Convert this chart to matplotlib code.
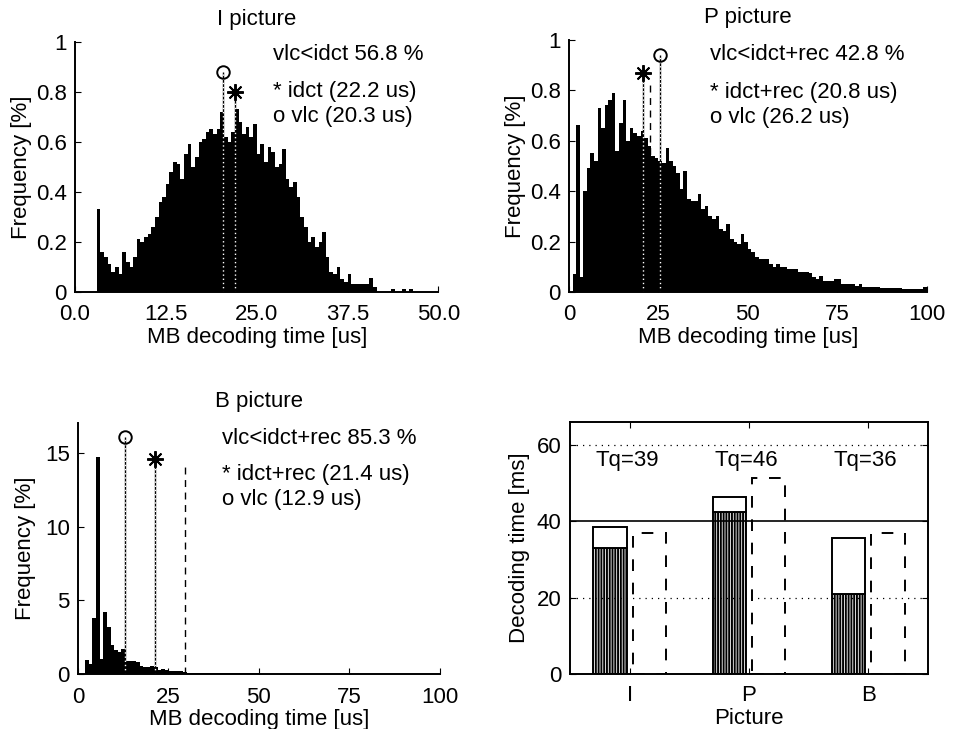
import numpy as np
import matplotlib
matplotlib.use('Agg')
import matplotlib.pyplot as plt

plt.rcParams['font.family'] = ['Liberation Sans', 'DejaVu Sans']
plt.rcParams['font.size'] = 16
plt.rcParams['hatch.linewidth'] = 1.4

# I picture histogram, 0.5 us bins starting at 3.0 us
i_start, i_step = 3.0, 0.5
i_freq = [0.33, 0.16, 0.14, 0.11, 0.08, 0.10, 0.07, 0.16, 0.12, 0.10,
          0.14, 0.21, 0.20, 0.22, 0.23, 0.26, 0.30, 0.36, 0.38, 0.43,
          0.48, 0.52, 0.51, 0.45, 0.55, 0.59, 0.50, 0.54, 0.60, 0.61,
          0.64, 0.65, 0.63, 0.65, 0.72, 0.62, 0.60, 0.64, 0.73, 0.68,
          0.63, 0.66, 0.62, 0.67, 0.55, 0.59, 0.52, 0.58, 0.56, 0.50,
          0.51, 0.57, 0.45, 0.42, 0.44, 0.38, 0.30, 0.26, 0.20, 0.22,
          0.18, 0.20, 0.24, 0.14, 0.08, 0.07, 0.10, 0.05, 0.04, 0.07,
          0.03, 0.03, 0.03, 0.03, 0.03, 0.055, 0.02, 0.0, 0.0, 0.0,
          0.0, 0.012, 0.0, 0.0, 0.012, 0.0, 0.012, 0.0]

# P picture histogram, 1 us bins starting at 0 us
p_start, p_step = 0.0, 1.0
p_freq = [0.0, 0.07, 0.66, 0.06, 0.40, 0.49, 0.55, 0.52, 0.73, 0.65,
          0.74, 0.76, 0.79, 0.56, 0.67, 0.76, 0.60, 0.65, 0.63, 0.62,
          0.64, 0.61, 0.58, 0.54, 0.53, 0.52, 0.51, 0.57, 0.52, 0.50,
          0.47, 0.41, 0.48, 0.37, 0.36, 0.36, 0.39, 0.33, 0.34, 0.30,
          0.29, 0.30, 0.25, 0.24, 0.27, 0.21, 0.20, 0.19, 0.23, 0.20,
          0.17, 0.16, 0.14, 0.13, 0.13, 0.13, 0.11, 0.10, 0.11, 0.10,
          0.10, 0.09, 0.09, 0.09, 0.08, 0.08, 0.08, 0.075, 0.06, 0.05,
          0.065, 0.045, 0.045, 0.045, 0.05, 0.05, 0.03, 0.03, 0.03, 0.03,
          0.025, 0.03, 0.02, 0.02, 0.02, 0.02, 0.02, 0.015, 0.015, 0.015,
          0.015, 0.015, 0.015, 0.01, 0.01, 0.01, 0.01, 0.01, 0.01, 0.02]

# B picture histogram, 1 us bins starting at 0 us
b_start, b_step = 0.0, 1.0
b_freq = [0.0, 0.0, 0.95, 0.7, 3.8, 14.7, 1.0, 4.2, 3.2, 2.0,
          1.6, 1.5, 1.7, 0.9, 0.85, 0.9, 0.8, 0.55, 0.5, 0.5,
          0.55, 0.45, 0.3, 0.35, 0.25, 0.2, 0.2, 0.2, 0.2, 0.15,
          0.1, 0.1, 0.1, 0.1, 0.1, 0.1, 0.05, 0.05, 0.05, 0.05,
          0.05, 0.05, 0.05, 0.05, 0.05, 0.05, 0.05, 0.05, 0.05, 0.05,
          0.02, 0.02, 0.02, 0.02, 0.02, 0.02, 0.02, 0.02, 0.02, 0.02]

# mean markers (x, marker height)
i_vlc, i_idct = (20.3, 0.88), (22.0, 0.80)
p_idct, p_vlc, p_dash = (20.7, 0.87), (25.5, 0.94), (22.6, 0.82)
b_vlc, b_idct, b_dash = (12.9, 16.1), (21.4, 14.6), (29.7, 14.4)

# bar chart
pictures = ['I', 'P', 'B']
vlc_part = [32.9, 42.3, 20.9]
total_time = [38.4, 46.2, 35.5]
other_time = [36.8, 51.4, 36.8]
tq = [39, 46, 36]

star = (8, 2, 0)

fig = plt.figure(figsize=(9.54, 7.29), dpi=100)
ax1 = fig.add_axes([0.0786, 0.5995, 0.381, 0.343])
ax2 = fig.add_axes([0.5964, 0.5995, 0.375, 0.346])
ax3 = fig.add_axes([0.0818, 0.0754, 0.379, 0.344])
ax4 = fig.add_axes([0.5975, 0.0754, 0.375, 0.346])


def hist(ax, start, step, vals):
    edges = start + step * np.arange(len(vals))
    ax.bar(edges, vals, width=step, align='edge', color='k', linewidth=0)
    for s in ['top', 'right']:
        ax.spines[s].set_visible(False)
    ax.spines['left'].set_linewidth(1.4)
    ax.spines['bottom'].set_linewidth(1.4)
    ax.tick_params(direction='in', length=4, pad=6)
    ax.tick_params(axis='x', pad=9)


def stem(ax, x, top, marker, ms):
    ax.vlines(x, 0, top, color='k', lw=1.0)
    ax.vlines(x, 0, top, color='white', lw=1.0, linestyles=(0, (1, 2)))
    ax.plot([x], [top], marker=marker, ms=ms, mfc='none', mec='k', mew=1.4)


# I picture
hist(ax1, i_start, i_step, i_freq)
stem(ax1, i_vlc[0], i_vlc[1], 'o', 9)
stem(ax1, i_idct[0], i_idct[1], star, 12)
ax1.set_xlim(0, 50)
ax1.set_ylim(0, 1)
ax1.set_xticks([0, 12.5, 25, 37.5, 50])
ax1.set_xticklabels(['0.0', '12.5', '25.0', '37.5', '50.0'])
ax1.set_yticks([0, 0.2, 0.4, 0.6, 0.8, 1])
ax1.set_yticklabels(['0', '0.2', '0.4', '0.6', '0.8', '1'])
ax1.set_title('I picture', fontsize=16, pad=12)
ax1.set_xlabel('MB decoding time [us]', labelpad=1)
ax1.set_ylabel('Frequency [%]', labelpad=3)
ax1.text(27.3, 0.95, 'vlc<idct 56.8 %', va='center')
ax1.text(27.3, 0.80, '* idct (22.2 us)', va='center')
ax1.text(27.3, 0.70, 'o vlc (20.3 us)', va='center')

# P picture
hist(ax2, p_start, p_step, p_freq)
stem(ax2, p_idct[0], p_idct[1], star, 12)
stem(ax2, p_vlc[0], p_vlc[1], 'o', 9)
ax2.vlines(p_dash[0], 0, p_dash[1], color='k', lw=1.0, linestyles=(0, (5, 4)))
ax2.set_xlim(0, 100)
ax2.set_ylim(0, 1)
ax2.set_xticks([0, 25, 50, 75, 100])
ax2.set_yticks([0, 0.2, 0.4, 0.6, 0.8, 1])
ax2.set_yticklabels(['0', '0.2', '0.4', '0.6', '0.8', '1'])
ax2.set_title('P picture', fontsize=16, pad=12)
ax2.set_xlabel('MB decoding time [us]', labelpad=1)
ax2.set_ylabel('Frequency [%]', labelpad=3)
ax2.text(39.4, 0.94, 'vlc<idct+rec 42.8 %', va='center')
ax2.text(39.4, 0.79, '* idct+rec (20.8 us)', va='center')
ax2.text(39.4, 0.69, 'o vlc (26.2 us)', va='center')

# B picture
hist(ax3, b_start, b_step, b_freq)
stem(ax3, b_vlc[0], b_vlc[1], 'o', 9)
stem(ax3, b_idct[0], b_idct[1], star, 12)
ax3.vlines(b_dash[0], 0, b_dash[1], color='k', lw=1.0, linestyles=(0, (5, 4)))
ax3.set_xlim(0, 100)
ax3.set_ylim(0, 17)
ax3.set_xticks([0, 25, 50, 75, 100])
ax3.set_yticks([0, 5, 10, 15])
ax3.set_title('B picture', fontsize=16, pad=12)
ax3.set_xlabel('MB decoding time [us]', labelpad=1)
ax3.set_ylabel('Frequency [%]', labelpad=6)
ax3.text(39.8, 16.0, 'vlc<idct+rec 85.3 %', va='center')
ax3.text(39.8, 13.5, '* idct+rec (21.4 us)', va='center')
ax3.text(39.8, 11.8, 'o vlc (12.9 us)', va='center')

# decoding time per picture type
x = np.arange(1, len(pictures) + 1)
w = 0.28
off = 0.165
ax4.axhline(40, color='k', lw=1.2)
for yg in [20, 60]:
    ax4.axhline(yg, color='k', lw=0.9, ls=(0, (1, 4)))
ax4.bar(x - off, vlc_part, width=w, color='white', edgecolor='k',
        hatch='||||||', linewidth=1.4)
ax4.bar(x - off, np.array(total_time) - np.array(vlc_part), width=w,
        bottom=vlc_part, color='white', edgecolor='k', linewidth=1.4)
ax4.bar(x + off, other_time, width=w, fill=False, edgecolor='k',
        linewidth=1.4, linestyle=(0, (6, 6)))
for xi, t in zip(x, tq):
    ax4.text(xi - 0.02, 55.8, 'Tq=%d' % t, ha='center', va='center')
ax4.set_xlim(0.5, 3.5)
ax4.set_ylim(0, 66)
ax4.set_xticks(x)
ax4.set_xticklabels(pictures)
ax4.set_yticks([0, 20, 40, 60])
for s in ax4.spines.values():
    s.set_linewidth(1.4)
ax4.tick_params(direction='in', length=4, top=True, right=True, pad=6)
ax4.tick_params(axis='x', pad=8)
ax4.set_xlabel('Picture', labelpad=1)
ax4.set_ylabel('Decoding time [ms]', labelpad=5)

fig.savefig('out.png', dpi=100)
